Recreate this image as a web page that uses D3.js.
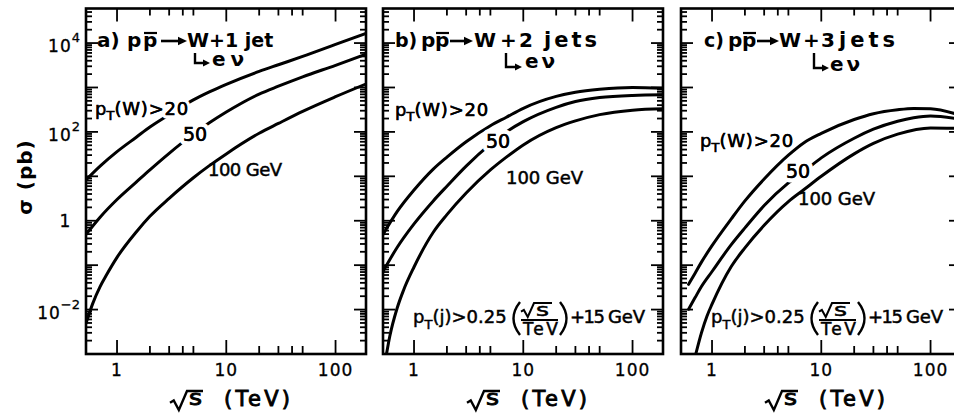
<!DOCTYPE html>
<html>
<head>
<meta charset="utf-8">
<script src="https://cdn.jsdelivr.net/npm/d3@7/dist/d3.min.js"></script>
<style>
  html, body { margin: 0; padding: 0; background: #fff; }
  svg text { font-family: "DejaVu Sans", "Liberation Sans", sans-serif; fill: #000; }
</style>
</head>
<body>
<svg id="chart" width="954" height="415"></svg>
<script>
// ---- cross sections σ (pb) versus √s (TeV), one series per pT(W) cut ----
const sqrtS_a = [0.52, 0.7, 1, 1.5, 2, 3, 5, 7, 10, 20, 30, 50, 100, 190];
const sigma_a20 = [8.3, 17, 36, 76, 129, 245, 525, 795, 1175, 2300, 3250, 5000, 9300, 16600];
const sigma_a50 = [0.49, 1.2, 3.0, 7.4, 14, 33, 89, 160, 280, 710, 1070, 1740, 3160, 5600];
const sqrtS_a100 = [0.52, 0.6, 0.7, 0.8, 1, 1.5, 2, 3, 5, 7, 10, 20, 30, 50, 100, 190];
const sigma_a100 = [0.0049, 0.0138, 0.033, 0.060, 0.15, 0.56, 1.26, 3.2, 9.3, 17.4, 32, 93, 155, 290, 620, 1200];

const sqrtS_b = [0.52, 0.7, 1, 1.5, 2, 3, 5, 7, 10, 20, 30, 50, 100, 190];
const sigma_b20 = [0.49, 1.6, 4.9, 14.5, 27, 60, 138, 214, 340, 630, 780, 910, 1000, 955];
const sigma_b50 = [0.072, 0.25, 0.85, 2.8, 6.0, 17, 53, 100, 170, 357, 482, 594, 664, 684];
const sqrtS_b100 = [0.56, 0.6, 0.7, 0.8, 1, 1.5, 2, 3, 5, 7, 10, 20, 30, 50, 100, 190];
const sigma_b100 = [0.001, 0.0025, 0.0107, 0.027, 0.091, 0.55, 1.37, 4.2, 13.9, 27, 51, 125, 177, 245, 308, 331];

const sqrtS_c = [0.61, 0.7, 0.8, 1, 1.5, 2, 3, 5, 7, 10, 20, 30, 50, 70, 100, 190];
const sigma_c20 = [0.037, 0.066, 0.117, 0.275, 1.1, 2.8, 8.7, 30, 58, 93, 190, 257, 316, 338, 331, 235];
const sigma_c50 = [0.0102, 0.0186, 0.033, 0.072, 0.29, 0.69, 2.2, 7.1, 13.2, 26, 72, 115, 174, 209, 229, 190];
const sqrtS_c100 = [0.71, 0.8, 0.9, 1, 1.5, 2, 3, 5, 7, 10, 20, 30, 50, 100, 190];
const sigma_c100 = [0.001, 0.003, 0.0072, 0.0132, 0.093, 0.245, 0.79, 2.7, 5.1, 10, 32, 55, 89, 123, 120];

// ---- axis ticks ----
const xMajorTicks = [1, 10, 100];
const xTickLabels = ["1", "10", "100"];
const xMinorTicks = [2, 3, 4, 5, 20, 30, 40, 50];
const yLabelTicks = [1e4, 1e2, 1, 1e-2];
const yTickBase = ["10", "10", "1", "10"];
const yTickExp = ["4", "2", "", "\u22122"];
const sqrtSDomain = [0.52, 190];
const sigmaDomain = [1e-3, 6e4];

// ---- layout ----
const plotW = 280, plotTop = 8.5, plotBottom = 354;
const svg = d3.select("#chart");

const x = d3.scaleLog().domain(sqrtSDomain).range([0, plotW]);
const y = d3.scaleLog().domain(sigmaDomain).range([plotBottom, plotTop]);

const yMajor = d3.range(-2, 5).map(e => Math.pow(10, e));
const yMinor = [];
d3.range(-3, 5).forEach(e => {
  for (let k = 2; k <= 9; k++) {
    const v = k * Math.pow(10, e);
    if (v < sigmaDomain[1] * 0.98) yMinor.push(v);
  }
});

const line = d3.line()
  .x(d => x(d[0]))
  .y(d => y(d[1]))
  .curve(d3.curveMonotoneX);

// title lettering: pieces [string, x (null = follows on), font size, letter spacing]
const panels = [
  {
    id: "a", left: 86,
    series: [[sqrtS_a, sigma_a20], [sqrtS_a, sigma_a50], [sqrtS_a100, sigma_a100]],
    title: [["a)", 97, 20, 0], ["p", 127, 20, 0], ["p", 143, 20, 0], ["W", 187, 20, 0], ["+1 jet", null, 19, 0]],
    bar: 143, arr: [161, 187], hook: [195, 53, 63, 210], ev: [212, 66, 5],
    lab20: [95, 115], lab50: [183, 141], lab100: [208, 282, 176],
    formula: false
  },
  {
    id: "b", left: 383,
    series: [[sqrtS_b, sigma_b20], [sqrtS_b, sigma_b50], [sqrtS_b100, sigma_b100]],
    title: [["b)", 395, 19, 0], ["p", 421, 20, 0], ["p", 435, 20, 0], ["W", 474, 20, 0], ["+", 500, 20, 0], ["2", 519, 20, 0], ["jets", 544, 21, 3]],
    bar: 435, arr: [450, 473], hook: [506, 53, 67, 522], ev: [525, 68, 3],
    lab20: [395, 116], lab50: [486, 148], lab100: [506, 583, 184],
    formula: true
  },
  {
    id: "c", left: 681,
    series: [[sqrtS_c, sigma_c20], [sqrtS_c, sigma_c50], [sqrtS_c100, sigma_c100]],
    title: [["c)", 704, 19, 0], ["p", 728, 20, 0], ["p", 742, 20, 0], ["W", 779, 20, 0], ["+", 803, 20, 0], ["3", 821, 20, 0], ["jets", 839, 21, 4]],
    bar: 742, arr: [757, 779], hook: [814, 53, 68, 829], ev: [830, 71, 3],
    lab20: [700, 147], lab50: [786, 178], lab100: [798, 875, 205],
    formula: true
  }
];

// text helper: place a string at x0 on a baseline, optionally fitted to a width
function put(g, s, x0, w, base, size, opts = {}) {
  const t = g.append("text")
    .attr("x", x0).attr("y", base)
    .attr("font-size", size)
    .text(s);
  if (opts.bold) t.attr("font-weight", "bold");
  if (opts.ls) t.attr("letter-spacing", opts.ls);
  if (opts.thick) t.attr("stroke", "#000").attr("stroke-width", opts.thick);
  if (opts.halo) t.attr("stroke", "#fff").attr("stroke-width", opts.halo).attr("paint-order", "stroke").attr("stroke-linejoin", "round");
  if (w != null) t.attr("textLength", w).attr("lengthAdjust", opts.adjust || "spacingAndGlyphs");
  return t;
}

// "p_T(...)..." lettering with a subscript T
function ptText(g, x0, base, rest, sub, halo) {
  const t = g.append("text").attr("x", x0).attr("y", base).attr("font-size", 18);
  if (halo) t.attr("stroke", "#fff").attr("stroke-width", halo).attr("paint-order", "stroke").attr("stroke-linejoin", "round");
  else t.attr("stroke", "#000").attr("stroke-width", 0.5);
  t.append("tspan").text("p");
  t.append("tspan").attr("font-size", 13).attr("dy", sub).text("T");
  t.append("tspan").attr("dy", -sub).attr("letter-spacing", 0.8).text(rest);
  return t;
}

// filled arrowhead pointing right
function arrowHead(g, xEnd, yc, len, half) {
  g.append("path")
    .attr("d", `M${xEnd - len},${yc - half}L${xEnd},${yc}L${xEnd - len},${yc + half}Z`)
    .attr("fill", "#000");
}

// radical sign with overbar
function radical(g, x0, x1, yTop, yBot, barEnd, sw) {
  const w = x1 - x0, h = yBot - yTop;
  g.append("path")
    .attr("d", `M${x0},${yTop + 0.62 * h}L${x0 + 0.22 * w},${yTop + 0.5 * h}L${x0 + 0.52 * w},${yBot}L${x1},${yTop}H${barEnd}`)
    .attr("fill", "none").attr("stroke", "#000").attr("stroke-width", sw)
    .attr("stroke-linejoin", "miter");
}

panels.forEach(P => {
  const g = svg.append("g").attr("transform", `translate(${P.left},0)`);
  const L = P.left;

  // clip region for curves
  const clipId = "clip-" + P.id;
  svg.append("clipPath").attr("id", clipId)
    .append("rect").attr("x", L).attr("y", plotTop).attr("width", plotW).attr("height", plotBottom - plotTop);

  // curves
  const cg = svg.append("g").attr("clip-path", `url(#${clipId})`)
    .append("g").attr("transform", `translate(${L},0)`);
  P.series.forEach(([xs, ys]) => {
    cg.append("path")
      .datum(xs.map((v, i) => [v, ys[i]]))
      .attr("d", line)
      .attr("fill", "none")
      .attr("stroke", "#000")
      .attr("stroke-width", 3)
      .attr("stroke-linecap", "round");
  });

  // ticks on all four sides, pointing inwards
  const tk = g.append("g").attr("stroke", "#000").attr("stroke-width", 1.8);
  yMajor.forEach(v => {
    tk.append("line").attr("x1", 0).attr("x2", 12).attr("y1", y(v)).attr("y2", y(v));
    tk.append("line").attr("x1", plotW).attr("x2", plotW - 12).attr("y1", y(v)).attr("y2", y(v));
  });
  yMinor.forEach(v => {
    tk.append("line").attr("x1", 0).attr("x2", 6).attr("y1", y(v)).attr("y2", y(v));
    tk.append("line").attr("x1", plotW).attr("x2", plotW - 6).attr("y1", y(v)).attr("y2", y(v));
  });
  xMajorTicks.forEach(v => {
    tk.append("line").attr("x1", x(v)).attr("x2", x(v)).attr("y1", plotBottom).attr("y2", plotBottom - 14);
    tk.append("line").attr("x1", x(v)).attr("x2", x(v)).attr("y1", plotTop).attr("y2", plotTop + 13);
  });
  xMinorTicks.forEach(v => {
    tk.append("line").attr("x1", x(v)).attr("x2", x(v)).attr("y1", plotBottom).attr("y2", plotBottom - 8);
    tk.append("line").attr("x1", x(v)).attr("x2", x(v)).attr("y1", plotTop).attr("y2", plotTop + 7);
  });

  // frame
  g.append("rect")
    .attr("x", 0).attr("y", plotTop)
    .attr("width", plotW).attr("height", plotBottom - plotTop)
    .attr("fill", "none").attr("stroke", "#000").attr("stroke-width", 2.6);

  // x tick labels
  xMajorTicks.forEach((v, i) => {
    g.append("text")
      .attr("x", x(v)).attr("y", 376)
      .attr("text-anchor", "middle")
      .attr("font-size", 17)
      .attr("stroke", "#000").attr("stroke-width", 0.3)
      .attr("letter-spacing", 1)
      .text(xTickLabels[i]);
  });

  // x axis title: √s  (TeV)
  const xt = g.append("g");
  radical(xt, 84, 101, 391, 410, 117, 2.4);
  put(xt, "s", 103, 13, 405, 21, { thick: 0.9 });
  put(xt, "(TeV)", 138, 66, 406, 21, { thick: 0.9, adjust: "spacing" });

  // panel title, one text element with placed pieces
  const tb = 47;
  const tg = svg.append("g");
  const tt = tg.append("text").attr("y", tb).attr("font-weight", "bold");
  P.title.forEach(([s, px, fs, ls]) => {
    const sp = tt.append("tspan").attr("font-size", fs).text(s);
    if (px != null) sp.attr("x", px);
    if (ls) sp.attr("letter-spacing", ls);
  });
  // bar over the antiproton
  tg.append("line").attr("x1", P.bar + 1).attr("x2", P.bar + 14)
    .attr("y1", 33).attr("y2", 33).attr("stroke", "#000").attr("stroke-width", 2.2);
  // reaction arrow
  tg.append("line").attr("x1", P.arr[0]).attr("x2", P.arr[1] - 6)
    .attr("y1", 41).attr("y2", 41).attr("stroke", "#000").attr("stroke-width", 2.6);
  arrowHead(tg, P.arr[1], 41, 9, 4.2);
  // decay hook  └→ eν
  const [hx, hy1, hy2, hx2] = P.hook;
  tg.append("path")
    .attr("d", `M${hx},${hy1}V${hy2}H${hx2 - 5}`)
    .attr("fill", "none").attr("stroke", "#000").attr("stroke-width", 2.4);
  arrowHead(tg, hx2, hy2, 7, 3.5);
  put(tg, "e\u03bd", P.ev[0], null, P.ev[1], 20, { bold: true, ls: P.ev[2] });

  // curve labels (white knock-out breaks the curve under the lettering)
  const lg = svg.append("g");
  const [a0, ab] = P.lab20;
  ptText(lg, a0, ab, "(W)>20", 5, 7);
  ptText(lg, a0, ab, "(W)>20", 5, 0);
  put(lg, "50", P.lab50[0], null, P.lab50[1], 19, { halo: 9 });
  put(lg, "50", P.lab50[0], null, P.lab50[1], 19, { thick: 0.5 });
  put(lg, "100 GeV", P.lab100[0], P.lab100[1] - P.lab100[0], P.lab100[2], 18, { thick: 0.5, adjust: "spacing" });

  // jet threshold formula
  if (P.formula) {
    const fg = svg.append("g");
    const fb = 323;
    const ft = fg.append("text").attr("x", L + 30).attr("y", fb).attr("font-size", 18)
      .attr("stroke", "#000").attr("stroke-width", 0.5);
    ft.append("tspan").text("p");
    ft.append("tspan").attr("font-size", 13).attr("dy", 6).text("T");
    ft.append("tspan").attr("dy", -6).text("(j)>0.25");
    // large parentheses
    fg.append("path").attr("d", `M${L + 137},302Q${L + 124},318.5 ${L + 137},335`)
      .attr("fill", "none").attr("stroke", "#000").attr("stroke-width", 2.4);
    fg.append("path").attr("d", `M${L + 177},302Q${L + 190},318.5 ${L + 177},335`)
      .attr("fill", "none").attr("stroke", "#000").attr("stroke-width", 2.4);
    // fraction √s / TeV
    radical(fg, L + 138, L + 151, 303, 317, L + 169, 2);
    put(fg, "s", L + 153, 13, 316, 18, { thick: 0.5 });
    fg.append("line").attr("x1", L + 138).attr("x2", L + 175).attr("y1", 320).attr("y2", 320)
      .attr("stroke", "#000").attr("stroke-width", 2);
    put(fg, "TeV", L + 140, 35, 335, 17, { thick: 0.5, adjust: "spacing" });
    put(fg, "+15", L + 187, 35, fb, 18, { thick: 0.5, adjust: "spacing" });
    put(fg, "GeV", L + 225, 37, fb, 18, { thick: 0.5, adjust: "spacing" });
  }
});

// y tick labels (left panel only)
const yl = svg.append("g");
yLabelTicks.forEach((v, i) => {
  const yy = y(v);
  if (yTickExp[i]) {
    const t = yl.append("text").attr("x", 80).attr("y", yy + 9).attr("text-anchor", "end")
      .attr("font-size", 17).attr("stroke", "#000").attr("stroke-width", 0.3);
    t.append("tspan").attr("letter-spacing", 1).text(yTickBase[i]);
    t.append("tspan").attr("font-size", 13).attr("dy", -10).text(yTickExp[i]);
  } else {
    yl.append("text").attr("x", 65).attr("y", yy + 6).attr("text-anchor", "middle")
      .attr("font-size", 17).attr("stroke", "#000").attr("stroke-width", 0.3).text(yTickBase[i]);
  }
});

// y axis title
svg.append("text")
  .attr("transform", "translate(32,177) rotate(-90)")
  .attr("text-anchor", "middle")
  .attr("font-size", 20)
  .attr("font-weight", "bold")
  .attr("letter-spacing", 1)
  .text("\u03c3 (pb)");
</script>
</body>
</html>
